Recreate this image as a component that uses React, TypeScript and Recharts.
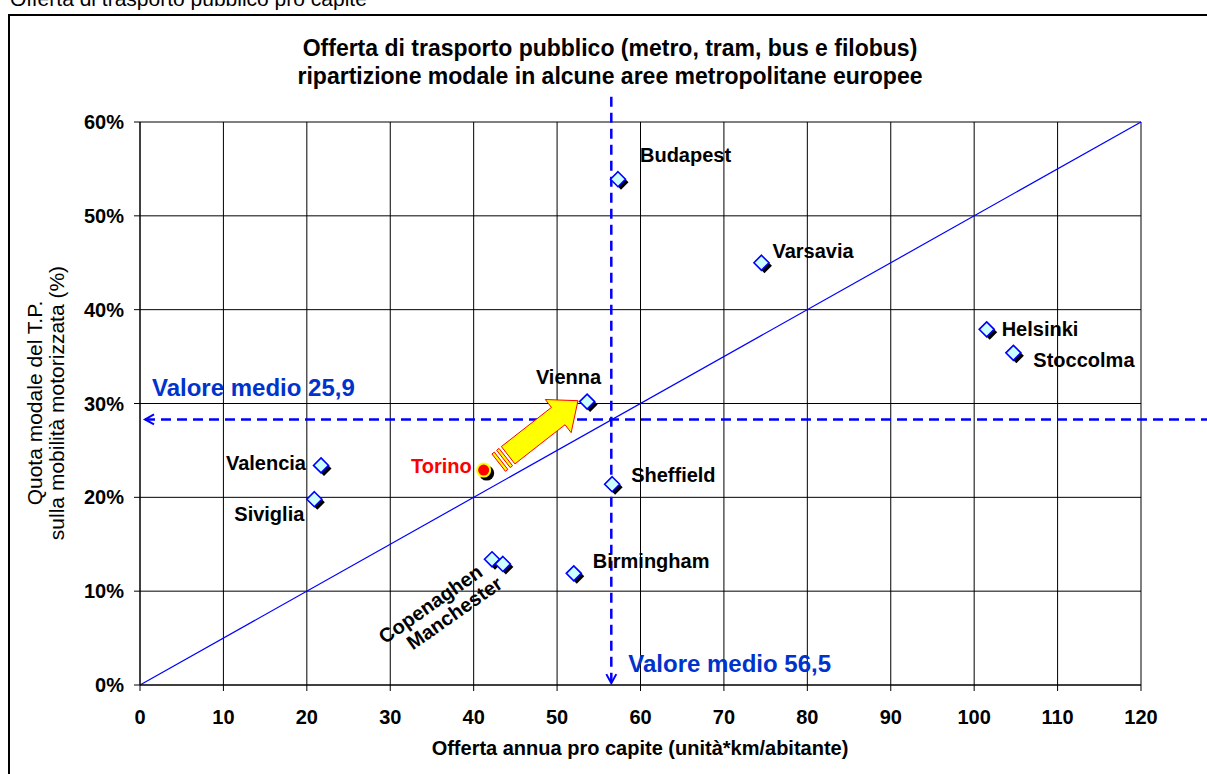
import React from "react";
import {
  ScatterChart,
  Scatter,
  XAxis,
  YAxis,
  CartesianGrid,
  ReferenceLine,
} from "recharts";

// città e valori
const citta = [
  "Budapest",
  "Varsavia",
  "Helsinki",
  "Stoccolma",
  "Vienna",
  "Sheffield",
  "Valencia",
  "Siviglia",
  "Copenaghen",
  "Manchester",
  "Birmingham",
];
const offertaPro = [57.3, 74.5, 101.5, 104.7, 53.6, 56.6, 21.7, 20.9, 42.2, 43.5, 52.0];
const quotaTP = [53.9, 45.0, 37.9, 35.4, 30.2, 21.4, 23.4, 19.8, 13.4, 12.9, 11.9];

const torinoNome = ["Torino"];
const torinoOfferta = [41.2];
const torinoQuota = [22.9];

const xTicks = [0, 10, 20, 30, 40, 50, 60, 70, 80, 90, 100, 110, 120];
const yTicks = [0, 10, 20, 30, 40, 50, 60];

const mediaOfferta = 56.5;
const mediaQuota = 28.3; // posizione disegnata della linea
const etichettaMediaOfferta = "Valore medio 56,5";
const etichettaMediaQuota = "Valore medio 25,9";

// freccia gialla da Torino verso Vienna
const frecciaDa = { x: 43.0, y: 23.7 };
const frecciaA = { x: 52.5, y: 30.3 };

const cityData = citta.map((name, i) => ({ name, x: offertaPro[i], y: quotaTP[i] }));
const torinoData = torinoNome.map((name, i) => ({ name, x: torinoOfferta[i], y: torinoQuota[i] }));

const FONT = "'Liberation Sans', Arial, Helvetica, sans-serif";
const BLU = "#0000FF";
const BLU_TESTO = "#0033CC";

// posizione delle etichette rispetto al punto
const etichette: Record<string, { dx: number; dy: number; anchor: string; rot?: number }> = {
  Budapest: { dx: 22, dy: -24, anchor: "start" },
  Varsavia: { dx: 11, dy: -12, anchor: "start" },
  Helsinki: { dx: 15, dy: 0, anchor: "start" },
  Stoccolma: { dx: 20, dy: 7, anchor: "start" },
  Vienna: { dx: 14, dy: -25, anchor: "end" },
  Sheffield: { dx: 19, dy: -9, anchor: "start" },
  Valencia: { dx: -15, dy: -2, anchor: "end" },
  Siviglia: { dx: -10, dy: 15, anchor: "end" },
  Copenaghen: { dx: -12, dy: 10, anchor: "end", rot: -35 },
  Manchester: { dx: -3, dy: 17, anchor: "end", rot: -35 },
  Birmingham: { dx: 19, dy: -12, anchor: "start" },
  Torino: { dx: -12, dy: -4, anchor: "end" },
};

const Etichetta = ({ cx, cy, name, color }: any) => {
  const e = etichette[name];
  if (!e) return null;
  const x = cx + e.dx;
  const y = cy + e.dy;
  return (
    <text
      x={x}
      y={y}
      textAnchor={e.anchor as any}
      dominantBaseline="central"
      fontFamily={FONT}
      fontWeight="bold"
      fontSize={20}
      fill={color}
      transform={e.rot ? `rotate(${e.rot} ${x} ${y})` : undefined}
    >
      {name}
    </text>
  );
};

const Rombo = (props: any) => {
  const { cx, cy, payload } = props;
  const r = 7.5;
  const d = (ox: number, oy: number) =>
    `M${cx + ox},${cy + oy - r} L${cx + ox + r},${cy + oy} L${cx + ox},${cy + oy + r} L${cx + ox - r},${cy + oy} Z`;
  return (
    <g>
      <path d={d(3, 3)} fill="#000" />
      <path d={d(0, 0)} fill="#CCFFFF" stroke={BLU} strokeWidth={1.6} />
      <Etichetta cx={cx} cy={cy} name={payload.name} color="#000" />
    </g>
  );
};

const Cerchio = (props: any) => {
  const { cx, cy, payload } = props;
  return (
    <g>
      <circle cx={cx + 3} cy={cy + 3} r={7.5} fill="#000" />
      <circle cx={cx} cy={cy} r={6.5} fill="#FF0000" stroke="#FFFF00" strokeWidth={2} />
      <Etichetta cx={cx} cy={cy} name={payload.name} color="#FF0000" />
    </g>
  );
};

const MediaOrizzontale = (props: any) => {
  const { x1, y1, x2, y2 } = props;
  return (
    <g>
      <line x1={x1} y1={y1} x2={x2} y2={y2} stroke={BLU} strokeWidth={2.5} strokeDasharray="10 6" />
      <path d={`M${x1 + 9},${y1 - 5} L${x1},${y1} L${x1 + 9},${y1 + 5}`} fill="none" stroke={BLU} strokeWidth={2} />
      <text x={x1 + 7} y={y1 - 32} dominantBaseline="central" fontFamily={FONT} fontWeight="bold" fontSize={24} fill={BLU_TESTO}>
        {etichettaMediaQuota}
      </text>
    </g>
  );
};

const MediaVerticale = (props: any) => {
  const { x1, y1, x2, y2 } = props;
  return (
    <g>
      <line x1={x1} y1={y1} x2={x2} y2={y2} stroke={BLU} strokeWidth={2.5} strokeDasharray="10 6" />
      <path d={`M${x2 - 5},${y2 - 9} L${x2},${y2} L${x2 + 5},${y2 - 9}`} fill="none" stroke={BLU} strokeWidth={2} />
      <text x={x2 + 17} y={y2 - 20} dominantBaseline="central" fontFamily={FONT} fontWeight="bold" fontSize={24} fill={BLU_TESTO}>
        {etichettaMediaOfferta}
      </text>
    </g>
  );
};

const FrecciaGialla = (props: any) => {
  const { x1, y1, x2, y2 } = props;
  const L = Math.hypot(x2 - x1, y2 - y1);
  const ux = (x2 - x1) / L;
  const uy = (y2 - y1) / L;
  const nx = -uy;
  const ny = ux;
  const p = (t: number, s: number) => `${x1 + ux * t + nx * s},${y1 + uy * t + ny * s}`;
  const hl = 25;
  const hw = 21;
  const w = 11;
  const corpo = [p(12, -w), p(L - hl, -w), p(L - hl, -hw), p(L, 0), p(L - hl, hw), p(L - hl, w), p(12, w)].join(" ");
  const striscia = (a: number, b: number) => [p(a, -w), p(b, -w), p(b, w), p(a, w)].join(" ");
  return (
    <g>
      <polygon points={striscia(0, 3)} fill="#FFFF00" stroke="#FF0000" strokeWidth={1} />
      <polygon points={striscia(6, 9)} fill="#FFFF00" stroke="#FF0000" strokeWidth={1} />
      <polygon points={corpo} fill="#FFFF00" stroke="#FF0000" strokeWidth={1} />
    </g>
  );
};

const tickStyle = { fontSize: 20, fontWeight: "bold", fill: "#000", fontFamily: FONT };

const App: React.FC = () => {
  return (
    <div
      style={{
        position: "absolute",
        left: 0,
        top: 0,
        width: 1207,
        height: 774,
        background: "#fff",
        overflow: "hidden",
        fontFamily: FONT,
      }}
    >
      {/* testo tagliato in alto */}
      <div style={{ position: "absolute", left: 10, top: -12, fontSize: 21, lineHeight: "21px", whiteSpace: "nowrap" }}>
        Offerta di trasporto pubblico pro capite
      </div>

      {/* cornice */}
      <div
        style={{
          position: "absolute",
          left: 8,
          top: 14,
          width: 1220,
          height: 780,
          border: "2px solid #000",
        }}
      />

      {/* titolo */}
      <div
        style={{
          position: "absolute",
          left: 210,
          width: 800,
          top: 34,
          textAlign: "center",
          fontWeight: "bold",
          fontSize: 23,
          lineHeight: "28px",
        }}
      >
        Offerta di trasporto pubblico (metro, tram, bus e filobus)
        <br />
        ripartizione modale in alcune aree metropolitane europee
      </div>

      <div style={{ position: "absolute", left: 0, top: 0 }}>
        <ScatterChart width={1207} height={774} margin={{ top: 122, right: 66, bottom: 59, left: 80 }}>
          <CartesianGrid stroke="#000" strokeWidth={1} />
          <XAxis
            type="number"
            dataKey="x"
            domain={[0, 120]}
            ticks={xTicks}
            interval={0}
            height={30}
            tick={tickStyle}
            tickSize={6}
            tickMargin={19}
            axisLine={{ stroke: "#000" }}
            tickLine={{ stroke: "#000" }}
            allowDataOverflow
          />
          <YAxis
            type="number"
            dataKey="y"
            domain={[0, 60]}
            ticks={yTicks}
            interval={0}
            width={60}
            tick={tickStyle}
            tickSize={6}
            tickMargin={10}
            tickFormatter={(v: number) => `${v}%`}
            axisLine={{ stroke: "#000" }}
            tickLine={{ stroke: "#000" }}
            allowDataOverflow
          />
          <ReferenceLine
            segment={[
              { x: 0, y: 0 },
              { x: 120, y: 60 },
            ]}
            stroke={BLU}
            strokeWidth={1.2}
            ifOverflow="visible"
          />
          <ReferenceLine
            segment={[
              { x: 0.6, y: mediaQuota },
              { x: 128, y: mediaQuota },
            ]}
            ifOverflow="visible"
            shape={MediaOrizzontale}
          />
          <ReferenceLine
            segment={[
              { x: mediaOfferta, y: 62.7 },
              { x: mediaOfferta, y: 0.2 },
            ]}
            ifOverflow="visible"
            shape={MediaVerticale}
          />
          <ReferenceLine
            segment={[frecciaDa, frecciaA]}
            ifOverflow="visible"
            shape={FrecciaGialla}
          />
          <Scatter data={cityData} shape={Rombo} isAnimationActive={false} />
          <Scatter data={torinoData} shape={Cerchio} isAnimationActive={false} />
        </ScatterChart>
      </div>

      {/* titolo asse Y */}
      <div
        style={{
          position: "absolute",
          left: 46 - 250,
          top: 403 - 22,
          width: 500,
          height: 44,
          transform: "rotate(-90deg)",
          transformOrigin: "center",
          textAlign: "center",
          fontSize: 21,
          lineHeight: "22px",
        }}
      >
        Quota modale del T.P.
        <br />
        sulla mobilità motorizzata (%)
      </div>

      {/* titolo asse X */}
      <div
        style={{
          position: "absolute",
          left: 340,
          width: 600,
          top: 736,
          textAlign: "center",
          fontWeight: "bold",
          fontSize: 20,
          lineHeight: "24px",
        }}
      >
        Offerta annua pro capite (unità*km/abitante)
      </div>
    </div>
  );
};

export default App;
